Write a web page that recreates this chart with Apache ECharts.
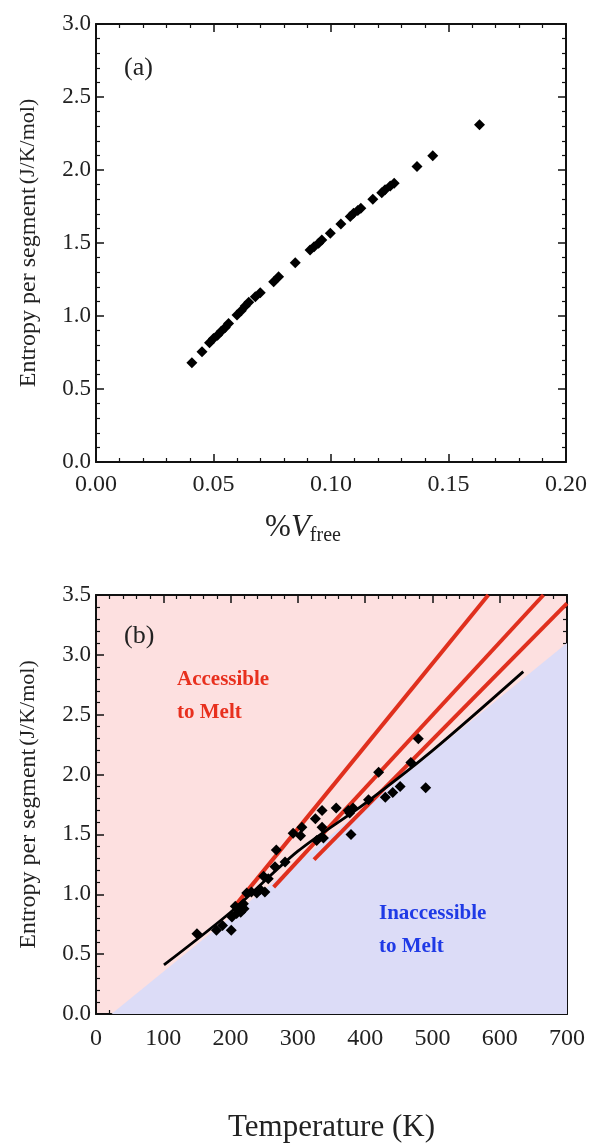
<!DOCTYPE html>
<html>
<head>
    <title>Entropy per segment</title>
    <script src="https://cdn.jsdelivr.net/npm/echarts@6/dist/echarts.min.js"></script>
    <style>
        body { margin: 0; background: #fff; }
        #chart { width: 589px; height: 1143px; }
    </style>
</head>
<body>
    <div id="chart"></div>
    <script>
        // panel (a): entropy vs free volume fraction
        var freeVol = [0.0408, 0.0451, 0.0483, 0.0500, 0.0517, 0.0533, 0.0550, 0.0564, 0.0600, 0.0618,
                       0.0635, 0.0650, 0.0678, 0.0699, 0.0756, 0.0777, 0.0848, 0.0911, 0.0928, 0.0947,
                       0.0961, 0.0997, 0.1042, 0.1082, 0.1096, 0.1114, 0.1127, 0.1178, 0.1216, 0.1230,
                       0.1252, 0.1269, 0.1366, 0.1433, 0.1632];
        var entropyA = [0.679, 0.755, 0.816, 0.846, 0.869, 0.896, 0.921, 0.949, 1.006, 1.036,
                        1.068, 1.095, 1.132, 1.159, 1.235, 1.269, 1.365, 1.452, 1.475, 1.498,
                        1.521, 1.566, 1.630, 1.681, 1.704, 1.722, 1.738, 1.800, 1.845, 1.864,
                        1.891, 1.909, 2.024, 2.097, 2.310];

        // panel (b): entropy vs temperature
        var tempB = [150, 179, 188, 201, 202, 207, 209, 214, 219, 224, 215, 220, 231, 239, 244, 251,
                     249, 256, 268, 266, 281, 293, 306, 304, 326, 328, 336, 336, 338, 357,
                     375, 377, 382, 379, 405, 420, 430, 441, 452, 468, 479, 490];
        var entropyB = [0.67, 0.70, 0.74, 0.70, 0.81, 0.90, 0.84, 0.87, 0.92, 1.01, 0.85, 0.88, 1.02, 1.01, 1.04, 1.02,
                        1.15, 1.13, 1.37, 1.23, 1.27, 1.51, 1.56, 1.49, 1.63, 1.45, 1.70, 1.56, 1.47, 1.72,
                        1.70, 1.68, 1.72, 1.50, 1.79, 2.02, 1.81, 1.85, 1.90, 2.10, 2.30, 1.89];

        // red lines (end points)
        var red1T = [209, 583], red1S = [0.92, 3.5];
        var red2T = [264, 665], red2S = [1.06, 3.5];
        var red3T = [324, 700], red3S = [1.29, 3.43];
        // black fit
        var fitT = [101, 200, 300, 400, 500, 635];
        var fitS = [0.41, 0.85, 1.36, 1.76, 2.20, 2.86];
        // boundary between accessible / inaccessible regions
        var boundT = [23, 700];
        var boundS = [0, 3.1];

        var xTicksA = [0, 0.05, 0.10, 0.15, 0.20];
        var yTicksA = [0, 0.5, 1.0, 1.5, 2.0, 2.5, 3.0];
        var xTicksB = [0, 100, 200, 300, 400, 500, 600, 700];
        var yTicksB = [0, 0.5, 1.0, 1.5, 2.0, 2.5, 3.0, 3.5];

        function pairs(xs, ys) {
            return xs.map(function (x, i) { return [x, ys[i]]; });
        }

        var serif = 'Liberation Serif';
        var labelStyle = { fontFamily: serif, fontSize: 23, color: '#222' };

        function axis(type, grid, pos, ticks, digits, shown, extra) {
            var a = {
                type: 'value',
                gridIndex: grid,
                position: pos,
                min: ticks[0],
                max: ticks[ticks.length - 1],
                interval: ticks[1] - ticks[0],
                axisLine: { show: true, onZero: false, lineStyle: { color: '#111', width: 2 } },
                axisTick: { show: true, inside: true, length: 8, lineStyle: { color: '#111', width: 1.5 } },
                minorTick: { show: true, splitNumber: 5, length: 4, lineStyle: { color: '#111', width: 1.2 } },
                splitLine: { show: false },
                axisLabel: shown ? Object.assign({
                    show: true,
                    margin: 5,
                    showMinLabel: true,
                    showMaxLabel: true,
                    formatter: function (v) { return v.toFixed(digits); }
                }, labelStyle) : { show: false }
            };
            return Object.assign(a, extra || {});
        }

        var yName = '{a|Entropy per segment} {b|(J/K/mol)}';
        var yNameStyle = {
            fontFamily: serif,
            color: '#222',
            rich: {
                a: { fontFamily: serif, fontSize: 24, color: '#222' },
                b: { fontFamily: serif, fontSize: 22, color: '#222' }
            }
        };

        var chart = echarts.init(document.getElementById('chart'), null, { renderer: 'canvas' });

        var option = {
            animation: false,
            backgroundColor: '#fff',
            grid: [
                { left: 96, top: 24, width: 470, height: 438, outerBoundsMode: 'none' },
                { left: 96, top: 595, width: 471, height: 419, outerBoundsMode: 'none',
                  show: true, backgroundColor: '#fde0e0', borderWidth: 0 }
            ],
            xAxis: [
                axis('x', 0, 'bottom', xTicksA, 2, true, {
                    name: '{p|%}{v|V}{s|free}',
                    nameLocation: 'middle',
                    nameGap: 33,
                    axisLabel: Object.assign({ show: true, margin: 4, showMinLabel: true, showMaxLabel: true,
                        formatter: function (v) { return v.toFixed(2); } }, labelStyle, { fontSize: 24 }),
                    nameTextStyle: {
                        padding: [0, 56, 0, 0],
                        rich: {
                            p: { fontFamily: serif, fontSize: 31, color: '#222' },
                            v: { fontFamily: serif, fontSize: 31, fontStyle: 'italic', color: '#222' },
                            s: { fontFamily: serif, fontSize: 20, color: '#222', padding: [16, 0, 0, 0] }
                        }
                    }
                }),
                axis('x', 0, 'top', xTicksA, 2, false),
                axis('x', 1, 'bottom', xTicksB, 0, true, {
                    name: 'Temperature (K)',
                    nameLocation: 'middle',
                    nameGap: 90,
                    nameTextStyle: { fontFamily: serif, fontSize: 31, color: '#222' },
                    axisLabel: Object.assign({ show: true, margin: 6, showMinLabel: true, showMaxLabel: true },
                        labelStyle, { fontSize: 24 })
                }),
                axis('x', 1, 'top', xTicksB, 0, false)
            ],
            yAxis: [
                axis('y', 0, 'left', yTicksA, 1, true, {
                    name: yName, nameLocation: 'middle', nameGap: 49, nameTextStyle: yNameStyle
                }),
                axis('y', 0, 'right', yTicksA, 1, false),
                axis('y', 1, 'left', yTicksB, 1, true, {
                    name: yName, nameLocation: 'middle', nameGap: 49, nameTextStyle: yNameStyle
                }),
                axis('y', 1, 'right', yTicksB, 1, false)
            ],
            graphic: [
                { type: 'text', z: 100, left: 124, top: 48, style: { text: '(a)', font: '26px "Liberation Serif"', fill: '#222' } },
                { type: 'text', z: 100, left: 124, top: 616, style: { text: '(b)', font: '26px "Liberation Serif"', fill: '#222' } },
                { type: 'text', z: 100, left: 177, top: 663, style: { text: 'Accessible\nto Melt', font: 'bold 21px "Liberation Serif"', fill: '#e8301e', lineHeight: 33 } },
                { type: 'text', z: 100, left: 379, top: 897, style: { text: 'Inaccessible\nto Melt', font: 'bold 21px "Liberation Serif"', fill: '#1f3ae6', lineHeight: 33 } }
            ],
            series: [
                {
                    type: 'scatter', xAxisIndex: 0, yAxisIndex: 0,
                    data: pairs(freeVol, entropyA),
                    symbol: 'diamond', symbolSize: 11,
                    itemStyle: { color: '#000', opacity: 1 }
                },
                {
                    type: 'line', xAxisIndex: 2, yAxisIndex: 2,
                    data: pairs(boundT, boundS),
                    symbol: 'none', z: 1,
                    lineStyle: { width: 0 },
                    areaStyle: { color: '#dcdcf7', opacity: 1 }
                },
                {
                    type: 'line', xAxisIndex: 2, yAxisIndex: 2,
                    data: pairs(red1T, red1S), symbol: 'none', z: 3,
                    lineStyle: { color: '#e0301e', width: 4 }
                },
                {
                    type: 'line', xAxisIndex: 2, yAxisIndex: 2,
                    data: pairs(red2T, red2S), symbol: 'none', z: 3,
                    lineStyle: { color: '#e0301e', width: 4 }
                },
                {
                    type: 'line', xAxisIndex: 2, yAxisIndex: 2,
                    data: pairs(red3T, red3S), symbol: 'none', z: 3,
                    lineStyle: { color: '#e0301e', width: 4 }
                },
                {
                    type: 'line', xAxisIndex: 2, yAxisIndex: 2,
                    data: pairs(fitT, fitS), symbol: 'none', smooth: 0.3, z: 4,
                    lineStyle: { color: '#000', width: 2.8 }
                },
                {
                    type: 'scatter', xAxisIndex: 2, yAxisIndex: 2,
                    data: pairs(tempB, entropyB), z: 5,
                    symbol: 'diamond', symbolSize: 11,
                    itemStyle: { color: '#000', opacity: 1 }
                }
            ]
        };

        chart.setOption(option);
    </script>
</body>
</html>
